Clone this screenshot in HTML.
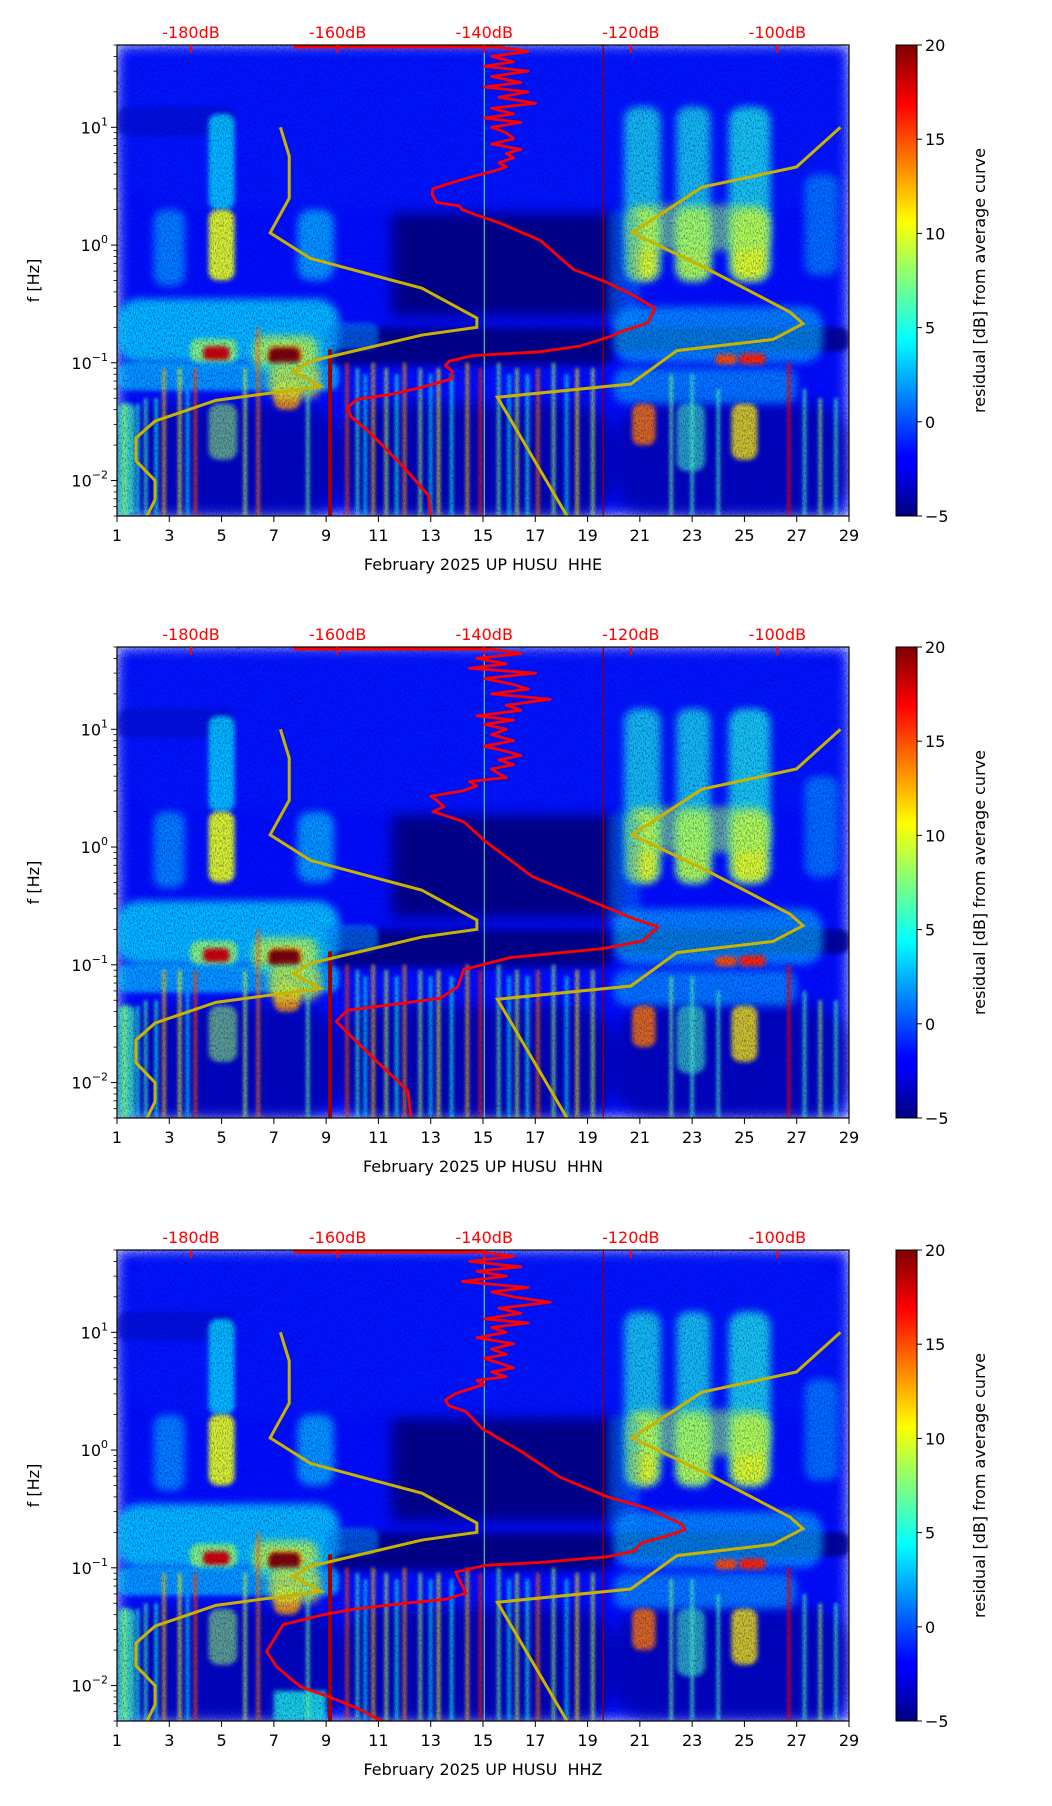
<!DOCTYPE html>
<html><head><meta charset="utf-8">
<style>
html,body{margin:0;padding:0;background:#fff;}
svg{display:block;}
text{font-family:"DejaVu Sans","Liberation Sans",sans-serif;}
</style></head>
<body>
<svg id="fig" xmlns="http://www.w3.org/2000/svg" width="1052" height="1806" viewBox="0 0 1052 1806">
<defs>
<filter id="blurL" x="-30%" y="-30%" width="160%" height="160%"><feGaussianBlur stdDeviation="7"/></filter>
<filter id="blurM" x="-40%" y="-40%" width="180%" height="180%"><feGaussianBlur stdDeviation="4"/></filter>
<filter id="blurS" x="-50%" y="-50%" width="200%" height="200%"><feGaussianBlur stdDeviation="2.2"/></filter>
<filter id="blur2" x="-20%" y="-20%" width="140%" height="140%"><feGaussianBlur stdDeviation="1.5"/></filter>
<filter id="noise" x="0" y="0" width="100%" height="100%">
<feTurbulence type="fractalNoise" baseFrequency="0.9 0.4" numOctaves="2" seed="3"/>
<feColorMatrix type="matrix" values="0 0 0 0 0  0 0 0 0 0  0 0 0 0 0.25  0 0 0 -2.5 1.4"/>
</filter>
<linearGradient id="jet" x1="0" y1="1" x2="0" y2="0">
<stop offset="0" stop-color="#00007f"/><stop offset="0.11" stop-color="#0000ff"/>
<stop offset="0.125" stop-color="#0000ff"/><stop offset="0.375" stop-color="#00ffff"/>
<stop offset="0.625" stop-color="#ffff00"/><stop offset="0.875" stop-color="#ff0000"/>
<stop offset="1" stop-color="#7f0000"/></linearGradient>
</defs>
</svg>
<script>
// ---------- data ----------
const channels = ["HHE","HHN","HHZ"];
const dayTicks = [1,3,5,7,9,11,13,15,17,19,21,23,25,27,29];
const dbTicks = [-180,-160,-140,-120,-100];
const freqTicks = [10,1,0.1,0.01];
const freqTickExp = ["1","0","\u22121","\u22122"];
const cbTicks = [-5,0,5,10,15,20];
// low noise model (dB, Hz)
const lowModelDb = [-167.8,-166.6,-166.6,-169.2,-163.7,-148.5,-141.0,-141.0,-148.5,-163.7,-166.0,-162.3,-176.6,-184.9,-187.5,-187.5,-184.9,-184.9,-186.0];
const lowModelF  = [10,5.7,2.5,1.27,0.77,0.43,0.24,0.2,0.172,0.103,0.084,0.063,0.048,0.032,0.023,0.0147,0.01,0.0069,0.005];
// high noise model (dB, Hz)
const highModelDb = [-91.4,-97.4,-110.3,-119.8,-109.4,-98.3,-96.5,-100.6,-113.7,-120.0,-138.2,-128.7];
const highModelF  = [10,4.6,3.1,1.27,0.62,0.27,0.215,0.158,0.127,0.066,0.051,0.005];
// median PSD curves (dB, Hz) per channel
const psdF1 = [48,44,40,36,33,30,27,24,22,20,18,16,14.5,13,12,11,10,9,8,7.2,6.5,6,5.5,5,4.6,4.2,3.9,3.6,3.3,3.0,2.7,2.3,2.15,2.0,1.85,1.54,1.1,0.62,0.48,0.37,0.29,0.218,0.188,0.168,0.139,0.124,0.115,0.103,0.095,0.085,0.073,0.061,0.054,0.049,0.042,0.035,0.0248,0.0126,0.0075,0.005];
const psdDb1 = [-138,-134,-139,-136,-140,-134,-139,-135,-140,-134,-138,-133,-139,-136,-140,-135,-139,-137,-136,-139,-135,-137,-136,-138,-137,-139,-141,-143,-145,-147,-147.1,-146.5,-143.4,-143.0,-141.6,-137.9,-132.4,-127.8,-123.2,-119.5,-116.7,-117.7,-120.9,-122.7,-126.9,-132.4,-141.6,-144.8,-145.3,-144.4,-144.4,-149.0,-152.7,-157.3,-158.6,-158.2,-155.4,-150.8,-147.6,-147.3];
const psdF2 = [48,44,40,36,33,30,27,24,22,20,18,16,14.5,13,12,11,10,9,8,7.2,6.5,6,5.5,5,4.6,4.2,3.9,3.6,3.3,3.0,2.7,2.5,2.2,2.0,1.85,1.64,1.1,0.56,0.35,0.25,0.21,0.16,0.137,0.115,0.091,0.065,0.052,0.041,0.033,0.017,0.0085,0.0051];
const psdDb2 = [-139,-135,-141,-137,-142,-133,-140,-136,-134,-139,-131,-137,-135,-141,-136,-140,-137,-139,-136,-140,-137,-135,-138,-136,-139,-138,-137,-142,-141,-143,-147.3,-146.5,-145.5,-147.0,-145.3,-142.8,-139.7,-133.4,-125.5,-119.9,-116.3,-118.3,-123.9,-136.5,-142.8,-143.6,-146.0,-158.7,-160.2,-155.5,-150.4,-150.0];
const psdF3 = [48,44,40,36,33,30,27,24,22,20,18,16,14.5,13,12,11,10,9,8,7.2,6.5,6,5.5,5,4.6,4.2,3.9,3.6,3.3,3.0,2.66,2.38,2.12,1.51,0.995,0.586,0.401,0.32,0.236,0.211,0.188,0.162,0.139,0.124,0.111,0.105,0.092,0.079,0.061,0.054,0.05,0.045,0.04,0.033,0.0195,0.0144,0.0098,0.0079,0.0063,0.005];
const psdDb3 = [-140,-136,-142,-135,-141,-137,-143,-134,-139,-136,-131,-138,-135,-140,-134,-139,-137,-141,-136,-139,-137,-140,-138,-136,-139,-137,-141,-140,-142,-144,-145.3,-144.8,-142.5,-140.2,-135.2,-129.6,-123.2,-117.7,-113.1,-112.6,-114.9,-118.6,-119.5,-123.2,-132.4,-139.8,-143.9,-143.4,-142.5,-145.3,-150.8,-157.3,-161.9,-167.4,-169.7,-168.3,-165.1,-160.9,-157.0,-154.0];
const psdDb = [psdDb1, psdDb2, psdDb3];
const psdF  = [psdF1, psdF2, psdF3];
// spectrogram patches (day range, freq range, residual dB, opacity)
const patchDay0 = [1, 11.5, 9, 20, 1, 1, 4.5, 2.4, 7.9, 20.4, 22.4, 24.4, 27.3, 4.5, 20.5, 22.4, 24.5, 20.5, 1, 20, 9, 3.8, 6.2, 6.8, 4.3, 6.8, 23.9, 24.8, 7.0, 1, 20, 1, 4.5, 20.7, 22.4, 24.5, 6.8, 19.8, 1, 9.5, 20];
const patchDay1 = [29, 20.2, 20, 29, 5.5, 29, 5.5, 3.6, 9.3, 21.8, 23.7, 26, 28.6, 5.5, 21.7, 23.7, 25.9, 26, 9.5, 28, 11, 5.6, 8.7, 8.1, 5.3, 8.0, 24.7, 25.8, 8.0, 9.5, 27, 1.7, 5.6, 21.6, 23.5, 25.5, 8.8, 21, 9.5, 20, 29];
const patchFLow = [0.005, 0.25, 0.095, 0.125, 8.5, 2, 2, 0.45, 0.5, 0.5, 0.5, 0.5, 0.55, 0.5, 0.5, 0.5, 0.5, 0.9, 0.1, 0.1, 0.13, 0.1, 0.085, 0.095, 0.106, 0.095, 0.097, 0.097, 0.04, 0.058, 0.045, 0.005, 0.015, 0.02, 0.012, 0.015, 0.05, 0.2, 0.005, 0.005, 0.005];
const patchFHigh = [50, 1.9, 0.2, 0.2, 15, 50, 13, 2, 2, 15, 15, 15, 4, 2, 2, 2, 2, 2.2, 0.35, 0.3, 0.22, 0.16, 0.17, 0.14, 0.138, 0.135, 0.118, 0.12, 0.07, 0.1, 0.09, 0.045, 0.045, 0.045, 0.045, 0.045, 0.098, 2, 0.045, 0.045, 0.045];
const patchVal = [-1.5, -5, -5, -5, -4, -1, 4, 3, 4, 5, 5, 5, 3, 10, 10, 9, 10, 8, 4, 3, 1.5, 8, 9, 12, 18, 20, 15, 16, 13, 4, 3, 6, 8, 14, 6, 11, 10, 2, -4.5, -4.5, -4.5];
const patchOp = [1, 0.95, 0.95, 0.8, 0.6, 0.35, 0.75, 0.6, 0.6, 0.7, 0.7, 0.75, 0.5, 0.95, 0.95, 0.9, 0.95, 0.6, 0.75, 0.6, 0.6, 0.85, 0.8, 0.9, 1, 1, 1, 1, 0.85, 0.6, 0.55, 0.8, 0.6, 0.85, 0.6, 0.8, 0.7, 0.4, 0.6, 0.7, 0.6];
// thin vertical streaks in the low-frequency part: day, top freq, residual
const streakDay = [1.3,1.8,2.1,2.5,2.8,3.4,3.7,4.0,5.9,6.4,8.3,9.8,10.2,10.5,10.8,11.3,11.7,12.0,12.6,13.0,13.3,13.8,14.4,14.9,15.6,16.0,16.3,16.7,17.1,17.7,18.2,18.6,19.2,22.2,23.0,24.0,26.7,27.3,27.9,28.5];
const streakTop = [0.045,0.045,0.05,0.05,0.09,0.09,0.06,0.09,0.09,0.2,0.09,0.1,0.09,0.08,0.1,0.09,0.08,0.1,0.09,0.08,0.09,0.08,0.1,0.09,0.1,0.08,0.09,0.08,0.09,0.1,0.08,0.09,0.09,0.08,0.08,0.06,0.1,0.06,0.05,0.05];
const streakVal = [8,5,6,5,12,10,4,15,9,14,7,15,6,4,12,9,5,13,8,4,10,5,12,16,7,4,9,5,14,8,4,11,9,7,6,6,17,6,8,6];
// ---------- helpers ----------
const NS = "http://www.w3.org/2000/svg";
const svg = document.getElementById("fig");
const PL = 117, PR = 849, PT = 45, PB = 516, CBL = 896, CBR = 917;
const FMAX = 50, FMIN = 0.005;
const offsets = [0, 602, 1205];
function X(day){ return PL + (day-1)/28*(PR-PL); }
function Y(f, oy){ return oy + PT + (Math.log10(FMAX)-Math.log10(f))/(Math.log10(FMAX)-Math.log10(FMIN))*(PB-PT); }
function XdB(db){ return 191 + (db+180)*7.33; }
function jet(v){
  let t = (v+5)/25; t = Math.max(0, Math.min(1, t));
  const c = x => Math.round(255*Math.max(0, Math.min(1, 1.5 - Math.abs(4*t - x))));
  return `rgb(${c(3)},${c(2)},${c(1)})`;
}
function el(tag, attrs, parent){
  const e = document.createElementNS(NS, tag);
  for (const k in attrs) e.setAttribute(k, attrs[k]);
  (parent || svg).appendChild(e);
  return e;
}
// draw order: base first, then dark (quiet) regions, then bright features
const order = [0];
patchVal.forEach((v, i) => { if (i > 0 && v <= -4) order.push(i); });
patchVal.forEach((v, i) => { if (i > 0 && v > -4) order.push(i); });
channels.forEach((ch, pi) => {
  const oy = offsets[pi];
  const g = el("g", {});
  
  
  const clipId = "clip" + pi;
  const cp = el("clipPath", {id: clipId}, g);
  el("rect", {x: PL, y: PT+oy, width: PR-PL, height: PB-PT}, cp);
  const spec = el("g", {"clip-path": `url(#${clipId})`}, g);
  
  
  order.forEach(i => {
    const x0 = X(patchDay0[i]), x1 = X(patchDay1[i]);
    const y0 = Y(patchFHigh[i], oy), y1 = Y(patchFLow[i], oy);
    const m = Math.min(x1-x0, y1-y0);
    const flt = m < 30 ? "blurS" : (m < 70 ? "blurM" : "blurL");
    const r = el("rect", {x: x0, y: y0, width: x1-x0, height: y1-y0, rx: i < 2 ? 0 : m/2*0.7, fill: jet(patchVal[i]), opacity: patchOp[i], filter: `url(#${flt})`}, spec);
    
    
  });
  if (pi === 2) {
    el("rect", {x: X(7), y: Y(0.009, oy), width: X(9)-X(7), height: Y(0.005, oy)-Y(0.009, oy), fill: jet(5), opacity: 0.8, filter: "url(#blurS)"}, spec);
  }
  const streaks = el("g", {filter: "url(#blur2)"}, spec);
  for (let i = 0; i < streakDay.length; i++) {
    const s = el("rect", {x: X(streakDay[i]) - 1.5, y: Y(streakTop[i], oy), width: 3, height: Y(FMIN, oy)-Y(streakTop[i], oy), fill: jet(streakVal[i]), opacity: 0.85}, streaks);
    
    
  }
  el("rect", {x: PL, y: PT+oy, width: PR-PL, height: PB-PT, filter: "url(#noise)", opacity: 0.5}, spec);
  // vertical reference lines
  const vl1 = el("line", {x1: X(9.15), x2: X(9.15), y1: Y(0.13, oy), y2: Y(FMIN, oy), stroke: "#a00000", "stroke-width": 4}, spec);
  
  
  const vl2 = el("line", {x1: X(19.6), x2: X(19.6), y1: Y(FMAX, oy), y2: Y(FMIN, oy), stroke: "#8b0000", "stroke-width": 1.3}, spec);
  
  
  el("line", {x1: X(15.05), x2: X(15.05), y1: Y(FMAX, oy), y2: Y(FMIN, oy), stroke: "#60ffa0", "stroke-width": 1.2, opacity: 0.8}, spec);
  // top red PSD segment
  el("line", {x1: XdB(-166), x2: XdB(psdDb[pi][0]), y1: PT+oy+2, y2: PT+oy+2, stroke: "#ff0000", "stroke-width": 3}, spec);
  // model curves
  const lm = el("polyline", {points: lowModelDb.map((d,i) => `${XdB(d)},${Y(lowModelF[i], oy)}`).join(" "), fill: "none", stroke: "#c9b300", "stroke-width": 3}, spec);
  
  
  const hm = el("polyline", {points: highModelDb.map((d,i) => `${XdB(d)},${Y(highModelF[i], oy)}`).join(" "), fill: "none", stroke: "#c9b300", "stroke-width": 3}, spec);
  
  
  const pl = el("polyline", {points: psdDb[pi].map((d,i) => `${XdB(d)},${Y(psdF[pi][i], oy)}`).join(" "), fill: "none", stroke: "#ff0000", "stroke-width": 2.8, "stroke-linejoin": "round"}, spec);
  
  
  // frame
  el("rect", {x: PL, y: PT+oy, width: PR-PL, height: PB-PT, fill: "none", stroke: "#000", "stroke-width": 1.2}, g);
  // x ticks
  dayTicks.forEach(d => {
    el("line", {x1: X(d), x2: X(d), y1: PB+oy, y2: PB+oy+6, stroke: "#000", "stroke-width": 1}, g);
    const t = el("text", {x: X(d), y: PB+oy+25, "text-anchor": "middle", "font-size": 16}, g);
    t.textContent = d;
    
    
  });
  // dB top ticks
  dbTicks.forEach(db => {
    el("line", {x1: XdB(db), x2: XdB(db), y1: PT+oy, y2: PT+oy+8, stroke: "#ff0000", "stroke-width": 2}, g);
    const t = el("text", {x: XdB(db), y: PT+oy-7, "text-anchor": "middle", "font-size": 16, fill: "#ff0000"}, g);
    t.textContent = db + "dB";
    
    
  });
  // y ticks major + minor
  freqTicks.forEach((f, i) => {
    const y = Y(f, oy);
    el("line", {x1: PL-6, x2: PL, y1: y, y2: y, stroke: "#000", "stroke-width": 1}, g);
    const t = el("text", {x: PL-9, y: y+6, "text-anchor": "end", "font-size": 16}, g);
    
    
    t.appendChild(document.createTextNode("10"));
    const sp = el("tspan", {dy: -8, "font-size": 11}, t);
    sp.textContent = freqTickExp[i];
  });
  for (let e = -3; e <= 1; e++) for (let m = 2; m <= 9; m++) {
    const f = m * Math.pow(10, e);
    if (f < FMIN || f > FMAX) continue;
    const y = Y(f, oy);
    el("line", {x1: PL-3.5, x2: PL, y1: y, y2: y, stroke: "#000", "stroke-width": 0.8}, g);
  }
  const yl = el("text", {x: 0, y: 0, transform: `translate(39,${(PT+PB)/2+oy}) rotate(-90)`, "text-anchor": "middle", "font-size": 16}, g);
  yl.textContent = "f [Hz]";
  
  
  const xl = el("text", {x: (PL+PR)/2, y: PB+oy+54, "text-anchor": "middle", "font-size": 16}, g);
  xl.textContent = "February 2025 UP HUSU \u00a0" + ch;
  
  
  // colorbar
  const cb = el("rect", {x: CBL, y: PT+oy, width: CBR-CBL, height: PB-PT, fill: "url(#jet)", stroke: "#000", "stroke-width": 1}, g);
  
  
  cbTicks.forEach(v => {
    const y = PB+oy - (v+5)/25*(PB-PT);
    el("line", {x1: CBR, x2: CBR+5, y1: y, y2: y, stroke: "#000", "stroke-width": 1}, g);
    const t = el("text", {x: CBR+8, y: y+6, "font-size": 16}, g);
    t.textContent = v < 0 ? "\u2212" + Math.abs(v) : v;
    
    
  });
  const cl = el("text", {x: 0, y: 0, transform: `translate(985,${(PT+PB)/2+oy}) rotate(-90)`, "text-anchor": "middle", "font-size": 16}, g);
  cl.textContent = "residual [dB] from average curve";
  
  
});
</script>
</body></html>
